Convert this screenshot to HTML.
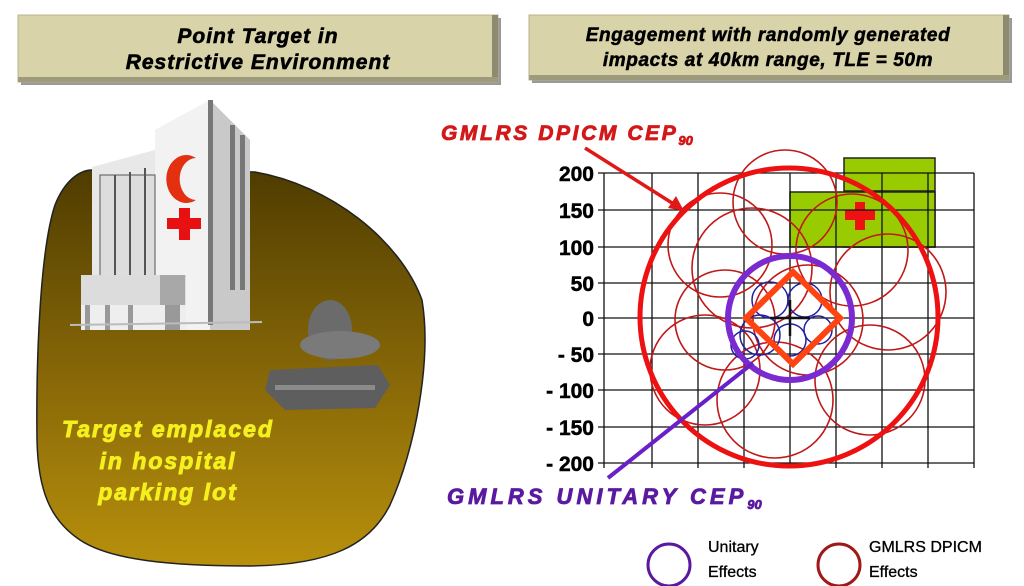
<!DOCTYPE html>
<html><head><meta charset="utf-8"><style>
html,body{margin:0;padding:0;background:#fff;width:1024px;height:586px;overflow:hidden}
svg{display:block}
text{font-family:"Liberation Sans",sans-serif}
</style></head><body>
<svg width="1024" height="586" viewBox="0 0 1024 586" xmlns="http://www.w3.org/2000/svg">
<defs>
<linearGradient id="blob" x1="0" y1="0" x2="0" y2="1">
<stop offset="0" stop-color="#4f3c00"/><stop offset="0.55" stop-color="#8a6a08"/><stop offset="1" stop-color="#b8900c"/>
</linearGradient>
</defs>
<!-- header boxes -->
<rect x="21" y="18" width="480" height="67" fill="#999"/>
<rect x="18" y="15" width="480" height="67" fill="#d8d3a8" stroke="#b8b38c"/>
<rect x="492" y="15" width="6" height="67" fill="#8d8a70"/>
<rect x="18" y="77" width="480" height="5" fill="#9e9a7c"/>
<g font-weight="bold" font-style="italic" text-anchor="middle" stroke="#000" stroke-width="0.6" letter-spacing="1">
<text x="258" y="43" font-size="21">Point Target in</text>
<text x="258" y="69" font-size="21">Restrictive Environment</text>
</g>
<rect x="532" y="18" width="480" height="65" fill="#999"/>
<rect x="529" y="15" width="480" height="65" fill="#d8d3a8" stroke="#b8b38c"/>
<rect x="1003" y="15" width="6" height="65" fill="#8d8a70"/>
<rect x="529" y="75" width="480" height="5" fill="#9e9a7c"/>
<g font-weight="bold" font-style="italic" text-anchor="middle" stroke="#000" stroke-width="0.5" letter-spacing="0.6">
<text x="768" y="41" font-size="19">Engagement with randomly generated</text>
<text x="768" y="66" font-size="19">impacts at 40km range, TLE = 50m</text>
</g>

<!-- blob -->
<path d="M92,170 L255,172 C330,185 400,240 422,300 C432,360 415,450 390,505 C370,545 330,565 250,566 C170,566 110,560 80,540 C50,520 38,490 37,440 C36,360 40,250 55,205 C65,180 80,170 92,170 Z" fill="url(#blob)" stroke="#222" stroke-width="1.5"/>

<!-- building -->
<polygon points="92,167 155,150 155,130 210,100 250,140 250,320 215,325 92,320" fill="#e8e8e8"/>
<polygon points="210,100 250,140 250,330 210,330" fill="#c9c9c9"/>
<polygon points="155,130 210,100 210,330 155,330" fill="#f2f2f2"/>
<rect x="100" y="175" width="55" height="140" fill="#ddd" stroke="#555" stroke-width="1"/>
<g stroke="#555" stroke-width="2"><line x1="115" y1="175" x2="115" y2="280"/><line x1="130" y1="172" x2="130" y2="280"/><line x1="145" y1="168" x2="145" y2="280"/></g>
<g fill="#777">
<rect x="230" y="125" width="5" height="165"/><rect x="240" y="135" width="5" height="155"/><rect x="208" y="100" width="5" height="225"/>
</g>
<path d="M196,158 A20,24 0 1 0 196,200 A14,18 0 1 1 196,158 Z" fill="#e33010"/>
<rect x="167" y="218" width="34" height="11" fill="#e81010"/><rect x="179" y="208" width="11" height="32" fill="#e81010"/>
<rect x="81" y="275" width="105" height="35" fill="#dcdcdc"/>
<rect x="160" y="275" width="25" height="55" fill="#a8a8a8"/>
<rect x="81" y="305" width="105" height="25" fill="#eee"/>
<g fill="#999"><rect x="85" y="305" width="5" height="25"/><rect x="105" y="305" width="5" height="25"/><rect x="128" y="305" width="5" height="25"/><rect x="165" y="305" width="15" height="25"/></g>
<line x1="70" y1="325" x2="262" y2="322" stroke="#bbb" stroke-width="2"/>

<!-- tank -->
<ellipse cx="330" cy="330" rx="22" ry="30" fill="#6b6b6b"/>
<ellipse cx="340" cy="345" rx="40" ry="14" fill="#7a7a7a"/>
<polygon points="270,370 378,365 390,385 375,408 285,410 265,390" fill="#5e5e5e"/>
<rect x="275" y="385" width="100" height="5" fill="#aaa" opacity="0.6"/>

<text font-size="23" font-weight="bold" font-style="italic" fill="#f4f01e" stroke="#f4f01e" stroke-width="0.9" letter-spacing="2" text-anchor="middle">
<tspan x="168" y="437">Target emplaced</tspan><tspan x="168" y="469">in hospital</tspan><tspan x="168" y="500">parking lot</tspan></text>

<!-- chart -->
<g>
<rect x="844" y="158" width="91" height="89" fill="#99cc00" stroke="#222" stroke-width="1.5"/>
<rect x="790" y="192" width="145" height="55" fill="#99cc00" stroke="#222" stroke-width="1.5"/>
<line x1="844" y1="191" x2="935" y2="191" stroke="#222" stroke-width="1.5"/>
<rect x="845" y="210" width="30" height="10" fill="#ee1111"/><rect x="855" y="202" width="10" height="28" fill="#ee1111"/>
<g stroke="#111" stroke-width="1.3" fill="none">
<line x1="598" y1="173" x2="974" y2="173"/><line x1="598" y1="210" x2="974" y2="210"/><line x1="598" y1="247" x2="974" y2="247"/><line x1="598" y1="283" x2="974" y2="283"/><line x1="598" y1="318" x2="974" y2="318"/><line x1="598" y1="354" x2="974" y2="354"/><line x1="598" y1="390" x2="974" y2="390"/><line x1="598" y1="427" x2="974" y2="427"/><line x1="598" y1="463" x2="974" y2="463"/>
<line x1="604" y1="173" x2="604" y2="468"/><line x1="652" y1="173" x2="652" y2="468"/><line x1="698" y1="173" x2="698" y2="468"/><line x1="744" y1="173" x2="744" y2="468"/><line x1="790" y1="173" x2="790" y2="468"/><line x1="836" y1="173" x2="836" y2="468"/><line x1="882" y1="173" x2="882" y2="468"/><line x1="928" y1="173" x2="928" y2="468"/><line x1="974" y1="173" x2="974" y2="468"/>
</g>
<g font-size="21" font-weight="bold" text-anchor="end" stroke="#000" stroke-width="0.5">
<text x="594" y="181">200</text><text x="594" y="218">150</text><text x="594" y="255">100</text><text x="594" y="291">50</text><text x="594" y="326">0</text><text x="594" y="362">- 50</text><text x="594" y="398">- 100</text><text x="594" y="435">- 150</text><text x="594" y="471">- 200</text>
</g>
<g fill="none" stroke="#c01818" stroke-width="1.6">
<circle cx="785" cy="202" r="52"/>
<circle cx="720" cy="245" r="52"/>
<circle cx="752" cy="268" r="60"/>
<circle cx="888" cy="292" r="58"/>
<circle cx="852" cy="250" r="56"/>
<circle cx="705" cy="370" r="55"/>
<circle cx="775" cy="400" r="58"/>
<circle cx="870" cy="380" r="55"/>
<circle cx="808" cy="320" r="55"/>
<circle cx="725" cy="320" r="50"/>
</g>
<g fill="none" stroke="#2020a0" stroke-width="1.5">
<circle cx="770" cy="300" r="18"/><circle cx="805" cy="300" r="17"/><circle cx="760" cy="335" r="20"/><circle cx="790" cy="340" r="16"/><circle cx="745" cy="345" r="14"/><circle cx="818" cy="330" r="14"/>
</g>
<circle cx="789" cy="317" r="149" fill="none" stroke="#ee1111" stroke-width="5"/>
<circle cx="790" cy="318" r="62" fill="none" stroke="#7a2ad0" stroke-width="6"/>
<polygon points="793,272 840,318 793,364 746,318" fill="none" stroke="#ff4411" stroke-width="6"/>
<line x1="770" y1="318" x2="810" y2="318" stroke="#111" stroke-width="2.5"/><line x1="790" y1="300" x2="790" y2="336" stroke="#111" stroke-width="2.5"/>
<!-- connectors -->
<line x1="585" y1="148" x2="680" y2="208" stroke="#e01818" stroke-width="3.5"/>
<polygon points="684,211 668,208 676,196" fill="#e01818"/>
<line x1="608" y1="478" x2="753" y2="363" stroke="#6a20c8" stroke-width="4"/>
</g>
<text x="441" y="140" font-size="21" font-weight="bold" font-style="italic" fill="#d21818" stroke="#d21818" stroke-width="0.8" letter-spacing="2.6">GMLRS DPICM CEP<tspan font-size="13" dy="5" letter-spacing="0">90</tspan></text>
<text x="447" y="504" font-size="22" font-weight="bold" font-style="italic" fill="#5a1aa0" stroke="#5a1aa0" stroke-width="0.8" letter-spacing="4">GMLRS UNITARY CEP<tspan font-size="13" dy="5" letter-spacing="0">90</tspan></text>

<!-- legend -->
<circle cx="669" cy="565" r="21" fill="none" stroke="#5a1aa0" stroke-width="3"/>
<g font-size="16" stroke="#000" stroke-width="0.3">
<text x="708" y="552">Unitary</text><text x="708" y="577">Effects</text>
<text x="869" y="552">GMLRS DPICM</text><text x="869" y="577">Effects</text>
</g>
<circle cx="839" cy="565" r="21" fill="none" stroke="#a01818" stroke-width="3"/>
</svg>
</body></html>
